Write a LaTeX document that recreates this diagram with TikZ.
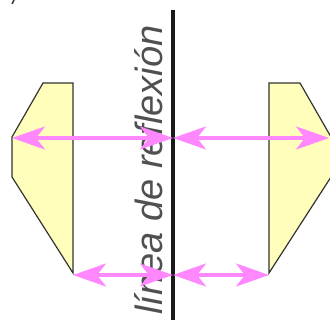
\documentclass[tikz,border=0pt]{standalone}
\usepackage{fontspec}
\setmainfont{Liberation Sans}
\usetikzlibrary{arrows.meta}
\definecolor{shapefill}{HTML}{FFFFBB}
\definecolor{pinkarrow}{HTML}{FF88FF}
\definecolor{textgray}{HTML}{505050}
\tikzset{
  figshape/.style={draw=black!80, fill=shapefill, line width=1.2pt, line join=miter},
  reflarrow/.style={draw=pinkarrow, line width=3.5pt,
    {Stealth[length=33pt, width=23pt, inset=9pt, fill=pinkarrow]}-{Stealth[length=33pt, width=23pt, inset=9pt, fill=pinkarrow]}, shorten <=0pt, shorten >=0pt},
  mirrorline/.style={draw=black!90, line width=3.3pt},
  lbl/.style={text=textgray, font=\fontsize{38}{40}\selectfont\itshape, inner sep=0pt, rotate=90, anchor=base}
}
\begin{document}
\begin{tikzpicture}[x=1pt, y=-1pt]
\useasboundingbox (0,0) rectangle (330,320);
\begin{scope}
\clip (0,0) rectangle (330,320);
% vertices of left figure
\coordinate (L1) at (43,83);
\coordinate (L2) at (73,83);
\coordinate (L3) at (73,273);
\coordinate (L4) at (12,177);
\coordinate (L5) at (12,137);
% vertices of right figure
\coordinate (R1) at (269,83);
\coordinate (R2) at (300,83);
\coordinate (R3) at (331,137);
\coordinate (R4) at (331,177);
\coordinate (R5) at (269,273);
\draw[figshape] (L1) -- (L2) -- (L3) -- (L4) -- (L5) -- cycle;
\draw[figshape] (R1) -- (R2) -- (R3) -- (R4) -- (R5) -- cycle;
% mirror line
\coordinate (mtop) at (173,10);
\coordinate (mbot) at (173,322);
\coordinate (mup) at (173,138);
\coordinate (mlow) at (173,275);
\coordinate (lup) at (12,138);
\coordinate (rup) at (329,138);
\coordinate (llow) at (73,275);
\coordinate (rlow) at (269,275);
\node[lbl] (label) at (162,170) {línea de reflexión};
\draw[mirrorline] (mtop) -- (mbot);
\draw[reflarrow] (lup) -- (mup);
\draw[reflarrow] (mup) -- (rup);
\draw[reflarrow] (llow) -- (mlow);
\draw[reflarrow] (mlow) -- (rlow);
\coordinate (tk1) at (14,0);
\coordinate (tk2) at (12,4);
\draw[black!80, line width=1.5pt] (tk1) -- (tk2);
\end{scope}
\end{tikzpicture}
\end{document}
